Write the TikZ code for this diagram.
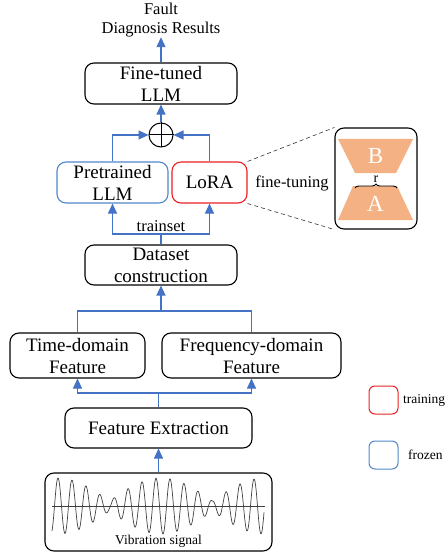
\documentclass[tikz,border=0pt]{standalone}
\usepackage{fontspec}
\setmainfont{Liberation Serif}
\usepackage{tikz}
\usetikzlibrary{arrows.meta,decorations.pathreplacing}
\usepackage{xcolor}
\definecolor{flowblue}{RGB}{68,114,196}
\definecolor{frozenblue}{RGB}{80,135,200}
\definecolor{trainred}{RGB}{235,30,35}
\definecolor{loraorange}{RGB}{244,177,131}

\begin{document}
\begin{tikzpicture}[x=1pt, y=-1pt, >={Triangle[length=10pt,width=9pt]},
box/.style={draw, rounded corners=9pt, line width=1.1pt, align=center, inner sep=0pt, font=\fontsize{19}{22}\selectfont},
flow/.style={flowblue, line width=1.1pt},
small/.style={inner sep=0pt, font=\fontsize{16.5}{19}\selectfont},
legend/.style={inner sep=0pt, font=\fontsize{13.5}{16}\selectfont}]
\useasboundingbox (0,0) rectangle (447,556);
\node[small, align=center] (10) at (161,20) {Fault\\Diagnosis Results};
\node[box, minimum width=152, minimum height=41] (1) at (161,83.5) {Fine-tuned\\LLM};
\node[circle, draw, line width=1pt, minimum size=24, inner sep=0pt] (2) at (161,135) {};
\draw[line width=1pt] (2.north) -- (2.south) (2.west) -- (2.east);
\node[box, draw=frozenblue, minimum width=111, minimum height=41] (3) at (112.5,182.5) {Pretrained\\LLM};
\node[box, draw=trainred, minimum width=75, minimum height=41] (4) at (209.5,182.5) {LoRA};
\node[small] (11) at (292,183) {fine-tuning};
\node[box, minimum width=82, minimum height=101] (5) at (376,178.5) {};
\node[box, minimum width=152, minimum height=40] (6) at (161,265) {Dataset\\construction};
\node[box, minimum width=135, minimum height=45] (7) at (77.5,355.5) {Time-domain\\Feature};
\node[box, minimum width=179, minimum height=45] (8) at (251.5,355.5) {Frequency-domain\\Feature};
\node[box, minimum width=187, minimum height=40] (9) at (158.5,428) {Feature Extraction};
\node[box, minimum width=227, minimum height=78, label={[legend, anchor=south, yshift=4pt]south:Vibration signal}] (12) at (158.5,512) {};
\coordinate (13) at (161,234);
\coordinate (14) at (161,311);
\coordinate (15) at (158.5,393);

% LoRA matrices
\fill[loraorange] (338,139) -- (413,139) -- (396,173) -- (355,173) -- cycle;
\fill[loraorange] (353,186) -- (397,186) -- (413,220) -- (338,220) -- cycle;
\node[white, inner sep=0pt, font=\fontsize{23}{23}\selectfont] at (375.5,156) {B};
\node[white, inner sep=0pt, font=\fontsize{23}{23}\selectfont] at (375.5,204) {A};
\draw[line width=0.9pt, decorate, decoration={brace, amplitude=4pt}] (355,188) -- (397,188);
\node[inner sep=0pt, font=\fontsize{14}{14}\selectfont] at (376,179) {r};
\draw[dash pattern=on 4pt off 3pt, line width=0.6pt, black!80] (4.north east) -- (5.north west) (4.south east) -- (5.south west);

% vibration signal
\draw[line width=0.7pt, black!75] (52,506) -- (265,506);
\draw[line width=0.7pt, black!75, domain=52:264, samples=400, smooth] plot (\x, {506 - (5+23*abs(cos(1.7476*(\x-58))))*cos(25.714*(\x-58))});

% connectors
\draw[flow, ->] (1.north) -- (10.south);
\draw[flow, ->] (2.north) -- (1.south);
\draw[flow, ->] (3.north) |- (2.west);
\draw[flow, ->] (4.north) |- (2.east);
\draw[flow] (6.north) -- (13);
\draw[flow, ->] (13) -| (3.south);
\draw[flow, ->] (13) -| (4.south);
\node[small, anchor=south, inner sep=2pt] at (13) {trainset};
\draw[flow, ->] (14) -- (6.south);
\draw[flow] (7.north) |- (14) -| (8.north);
\draw[flow] (9.north) -- (15);
\draw[flow, ->] (15) -| (7.south);
\draw[flow, ->] (15) -| (8.south);
\draw[flow, ->] (12.north) -- (9.south);

% legend
\node[draw=trainred, line width=1pt, rounded corners=6pt, minimum width=29, minimum height=28] (16) at (383.5,400) {};
\node[legend, anchor=west] at (403,400) {training};
\node[draw=frozenblue, line width=1pt, rounded corners=6pt, minimum width=29, minimum height=28] (17) at (383.5,455) {};
\node[legend, anchor=west] at (408,455) {frozen};
\end{tikzpicture}
\end{document}
